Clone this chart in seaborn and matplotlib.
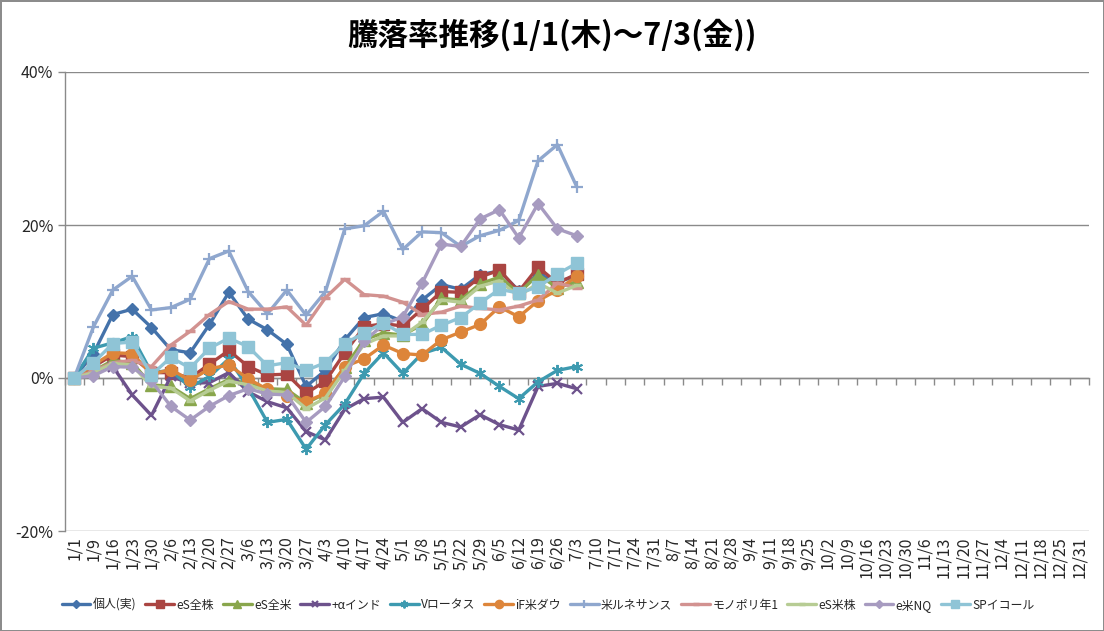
import numpy as np
import pandas as pd
import matplotlib
matplotlib.use("Agg")
import matplotlib.pyplot as plt
import seaborn as sns

# ---------------- data ----------------
dates = ['1/1', '1/9', '1/16', '1/23', '1/30', '2/6', '2/13', '2/20', '2/27',
         '3/6', '3/13', '3/20', '3/27', '4/3', '4/10', '4/17', '4/24', '5/1',
         '5/8', '5/15', '5/22', '5/29', '6/5', '6/12', '6/19', '6/26', '7/3',
         '7/10', '7/17', '7/24', '7/31', '8/7', '8/14', '8/21', '8/28', '9/4',
         '9/11', '9/18', '9/25', '10/2', '10/9', '10/16', '10/23', '10/30',
         '11/6', '11/13', '11/20', '11/27', '12/4', '12/11', '12/18', '12/25',
         '12/31']

series_names = ['個人(実)', 'eS全株', 'eS全米', '+αインド', 'Vロータス', 'iF米ダウ',
                '米ルネサンス', 'モノポリ年1', 'eS米株', 'e米NQ', 'SPイコール']

kojin = [0, 3.2, 8.3, 9.0, 6.6, 3.7, 3.3, 7.0, 11.2, 7.7, 6.3, 4.4, -1.1, 1.0,
         5.0, 7.9, 8.4, 7.4, 10.2, 12.2, 11.6, 13.5, 14.0, 11.4, 13.6, 12.6, 13.3]
es_zenkabu = [0, 1.5, 3.0, 2.8, 0.7, 0.7, 0.0, 1.8, 3.6, 1.5, 0.4, 0.5, -2.0, -0.4,
              3.3, 6.7, 7.1, 6.8, 9.0, 11.3, 11.2, 13.2, 14.1, 11.3, 14.5, 12.4, 13.6]
es_zenbei = [0, 0.9, 2.3, 2.0, -0.9, -1.1, -2.7, -1.4, -0.2, -0.7, -1.4, -1.5, -3.3, -2.0,
             1.4, 5.0, 5.9, 5.6, 7.0, 10.4, 10.2, 12.3, 13.2, 11.1, 13.5, 11.8, 12.6]
alpha_india = [0, 0.6, 1.5, -2.2, -4.9, 0.2, -0.7, -0.6, 0.7, -1.8, -3.1, -3.9, -7.0, -8.1,
               -4.1, -2.7, -2.5, -5.8, -4.0, -5.8, -6.4, -4.8, -6.1, -6.8, -1.1, -0.7, -1.4]
v_lotus = [0, 3.9, 4.6, 5.4, 0.7, 1.0, -1.2, 0.2, 2.5, -1.3, -5.8, -5.4, -9.3, -6.1,
           -3.4, 0.6, 3.3, 0.6, 3.2, 4.0, 1.8, 0.6, -1.1, -2.7, -0.5, 1.0, 1.5]
if_dow = [0, 1.7, 3.3, 3.2, 0.5, 1.1, -0.3, 1.2, 1.7, -0.1, -1.5, -2.4, -3.1, -2.0,
          1.5, 2.5, 4.3, 3.2, 3.0, 5.0, 6.0, 7.0, 9.3, 8.0, 10.1, 11.5, 13.3]
renaissance = [0, 6.7, 11.5, 13.3, 8.9, 9.2, 10.3, 15.6, 16.6, 11.3, 8.4, 11.5, 8.2, 11.3,
               19.5, 19.9, 21.8, 16.8, 19.1, 19.0, 17.2, 18.6, 19.3, 20.6, 28.4, 30.5, 25.0]
monopoly = [0, 0.9, 2.0, 2.3, 1.5, 4.3, 6.1, 8.3, 10.0, 9.0, 9.0, 9.3, 6.9, 10.5,
            12.9, 10.9, 10.7, 9.9, 8.3, 8.6, 9.4, 9.1, 8.9, 9.4, 10.2, 12.4, 11.8]
es_beikabu = [0, 0.7, 1.9, 1.7, -1.1, -1.3, -3.0, -1.6, -0.4, -0.9, -1.7, -1.9, -4.0, -2.6,
              1.0, 4.4, 5.5, 5.5, 7.3, 10.2, 9.9, 12.0, 12.7, 10.7, 12.4, 11.1, 12.1]
e_nq = [0, 0.3, 1.5, 1.4, -0.4, -3.7, -5.5, -3.7, -2.3, -1.4, -2.1, -2.2, -5.8, -3.7,
        0.2, 4.8, 7.0, 8.0, 12.4, 17.5, 17.2, 20.8, 22.0, 18.3, 22.8, 19.5, 18.6]
sp_equal = [0, 2.0, 4.5, 4.7, 0.4, 2.7, 1.3, 3.9, 5.2, 4.1, 1.6, 2.0, 1.0, 2.0,
            4.5, 5.9, 7.2, 5.7, 5.7, 6.9, 7.9, 9.8, 11.6, 11.1, 11.9, 13.6, 15.0]

all_values = [kojin, es_zenkabu, es_zenbei, alpha_india, v_lotus, if_dow,
              renaissance, monopoly, es_beikabu, e_nq, sp_equal]

y_ticks = [-20, 0, 20, 40]
y_tick_labels = ['-20%', '0%', '20%', '40%']
title = '騰落率推移(1/1(木)～7/3(金))'

# ---------------- style ----------------
colors = ['#4472AA', '#AA4542', '#89A64C', '#6D528C', '#3D9AB0', '#DD853A',
          '#8FA7CE', '#D29290', '#B7CC94', '#A79BC0', '#8FC4D6']
markers = ['D', 's', '^', 'x', (6, 2, 0), 'o', '+', '_', '_', 'D', 's']
msizes = [6.5, 8, 8, 7, 8, 8.5, 9, 7, 6, 6.5, 8.5]
mews = [1, 1, 1, 1.6, 1.4, 1, 1.6, 2.5, 2.5, 1, 1]

sns.set_style('white')
plt.rcParams['font.family'] = ['Noto Sans CJK JP', 'DejaVu Sans']

W, H = 1104, 631
fig = plt.figure(figsize=(W / 100, H / 100), dpi=100)
fig.patch.set_edgecolor('#8c8c8c')
fig.patch.set_linewidth(2)

left, right, top, bottom = 64.5, 1089, 72, 531
ax = fig.add_axes([left / W, 1 - bottom / H, (right - left) / W, (bottom - top) / H])

rows = []
for name, vals in zip(series_names, all_values):
    for d, v in zip(dates, vals):
        rows.append({'series': name, 'date': d, 'pos': dates.index(d), 'value': v})
df = pd.DataFrame(rows)

handles = []
for i, name in enumerate(series_names):
    sub = df[df['series'] == name]
    sns.lineplot(data=sub, x='pos', y='value', ax=ax, color=colors[i],
                 linewidth=2.4, marker=markers[i], markersize=msizes[i],
                 markeredgecolor=colors[i], markerfacecolor=colors[i],
                 markeredgewidth=mews[i], label=name, zorder=3 + i)
    handles.append(ax.lines[-1])

ax.get_legend().remove()

ax.set_xlim(-0.5, len(dates) - 0.5)
ax.set_ylim(-20, 40)
ax.set_xlabel('')
ax.set_ylabel('')

grid_c = '#8a8a8a'
ax.set_yticks(y_ticks)
ax.set_yticklabels(y_tick_labels, fontsize=11.5)
ax.yaxis.grid(True, color=grid_c, linewidth=1)
ax.xaxis.grid(False)
ax.tick_params(axis='y', length=5, color=grid_c, width=1, pad=3, left=True)

ax.set_xticks(range(len(dates)))
ax.set_xticklabels(dates, rotation=90, fontsize=11.5)
ax.tick_params(axis='x', length=0, pad=4)

for s in ['top', 'right', 'bottom']:
    ax.spines[s].set_visible(False)
ax.spines['left'].set_color(grid_c)
ax.spines['left'].set_linewidth(1)

# horizontal category axis at 0 with tick marks between categories
sec = ax.secondary_xaxis((0 - (-20)) / 60.0)
sec.set_xticks([])
sec.set_xticks(np.arange(len(dates) + 1) - 0.5, minor=True)
sec.tick_params(which='minor', length=5, width=1, color=grid_c, direction='out')
sec.tick_params(which='major', length=0, labelbottom=False)
sec.spines['bottom'].set_color(grid_c)
sec.spines['bottom'].set_linewidth(1)
for s in ['top', 'left', 'right']:
    if s in sec.spines:
        sec.spines[s].set_visible(False)

fig.text(0.5, 1 - 35 / H, title, ha='center', va='center',
         fontsize=22, fontweight='bold', color='#000000')

fig.legend(handles, series_names, loc='center', bbox_to_anchor=(548 / W, 1 - 605 / H),
           ncol=len(series_names), frameon=False, fontsize=8.6, handlelength=2.4,
           handletextpad=0.2, columnspacing=0.75, markerscale=0.7)

fig.savefig('out.png', dpi=100, edgecolor=fig.get_edgecolor())
